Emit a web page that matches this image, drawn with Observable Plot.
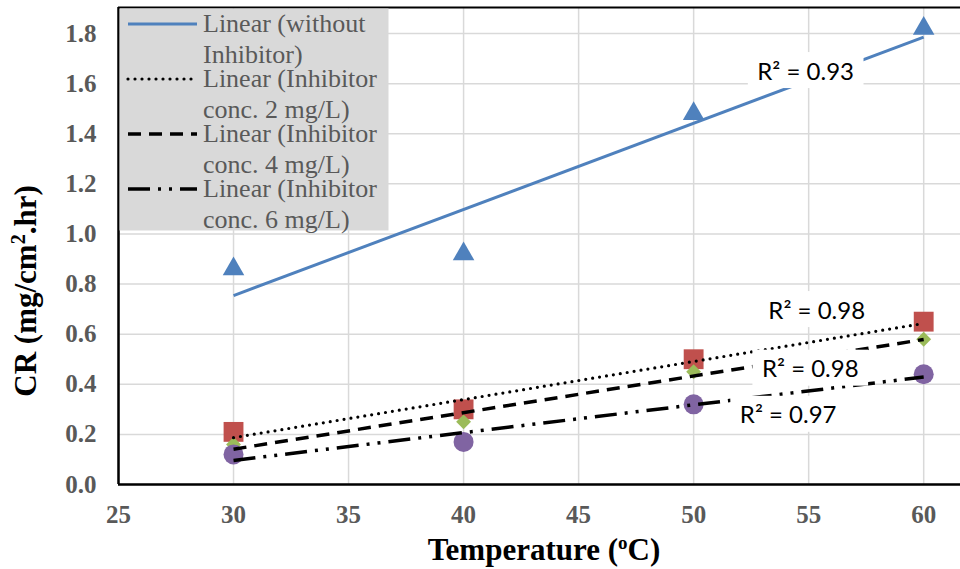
<!DOCTYPE html>
<html>
<head>
<meta charset="utf-8">
<script src="https://cdn.jsdelivr.net/npm/d3@7"></script>
<script src="https://cdn.jsdelivr.net/npm/@observablehq/plot@0.6"></script>
<style>
  html, body { margin: 0; padding: 0; background: #fff; }
  #wrap { position: relative; width: 960px; height: 569px; overflow: hidden; }
  #legend { position: absolute; left: 0; top: 0; pointer-events: none; }
  .serif { font-family: "Liberation Serif", "Times New Roman", serif; }
</style>
</head>
<body>
<div id="wrap"></div>
<script>
// ---- data ----
const temps = [30, 40, 50, 60];
const crWithout = [0.86, 0.92, 1.48, 1.82];
const crConc2 = [0.21, 0.30, 0.50, 0.65];
const crConc4 = [0.16, 0.25, 0.45, 0.58];
const crConc6 = [0.12, 0.17, 0.32, 0.44];
const xTicks = [25, 30, 35, 40, 45, 50, 55, 60];
const yTicks = [0, 0.2, 0.4, 0.6, 0.8, 1.0, 1.2, 1.4, 1.6, 1.8];
const legendLines = [
  ["Linear (without", "Inhibitor)"],
  ["Linear (Inhibitor", "conc. 2 mg/L)"],
  ["Linear (Inhibitor", "conc. 4 mg/L)"],
  ["Linear (Inhibitor", "conc. 6 mg/L)"]
];
const r2Texts = ["R\u00B2 = 0.93", "R\u00B2 = 0.98", "R\u00B2 = 0.98", "R\u00B2 = 0.97"];
const r2AtTemp = [54.87, 55.35, 55.07, 54.11];
const r2AtCR = [1.647, 0.693, 0.459, 0.275];

// ---- styling ----
const SERIF = "Liberation Serif, Times New Roman, serif";
const X_MAX = 61.6, Y_MAX = 1.904;
const series = [
  {values: crWithout, color: "#4F81BD", symbol: "triangle", r: 8,
   line: {stroke: "#4F81BD", strokeWidth: 3, strokeDasharray: null, strokeLinecap: "butt"}},
  {values: crConc2, color: "#C0504D", symbol: "square", r: 11.2,
   line: {stroke: "black", strokeWidth: 3.2, strokeDasharray: "0 7", strokeLinecap: "round"}},
  {values: crConc4, color: "#9BBB59", symbol: "diamond2", r: 6.7,
   line: {stroke: "black", strokeWidth: 3.5, strokeDasharray: "13 8", strokeLinecap: "butt"}},
  {values: crConc6, color: "#8064A2", symbol: "circle", r: 10,
   line: {stroke: "black", strokeWidth: 3.5, strokeDasharray: "22 8 3 8 3 8", strokeLinecap: "butt"}}
];
const tables = series.map(s => temps.map((t, i) => ({x: t, y: s.values[i]})));
const r2Table = r2Texts.map((t, i) => ({x: r2AtTemp[i], y: r2AtCR[i], text: t}));

const gridStyle = {stroke: "#d9d9d9", strokeOpacity: 1, strokeWidth: 1.5};
const tickStyle = {tickSize: 0, fontSize: 25, fontWeight: "bold", fontFamily: SERIF, fill: "#595959", label: null};

const plot = Plot.plot({
  width: 960, height: 569,
  marginLeft: 118, marginRight: 0, marginTop: 7, marginBottom: 85,
  style: {fontFamily: SERIF, background: "white", overflow: "visible"},
  x: {domain: [25, X_MAX]},
  y: {domain: [0, Y_MAX]},
  marks: [
    Plot.gridX(xTicks, gridStyle),
    Plot.gridY(yTicks, gridStyle),
    Plot.ruleY([Y_MAX], {stroke: "black", strokeWidth: 2}),
    Plot.axisX(xTicks, {...tickStyle, tickPadding: 21}),
    Plot.axisY(yTicks, {...tickStyle, tickPadding: 22, tickFormat: d3.format(".1f")}),
    ...series.map((s, i) => Plot.dot(tables[i], {x: "x", y: "y", symbol: s.symbol, r: s.r, fill: s.color, stroke: "none"})),
    ...series.map((s, i) => Plot.linearRegressionY(tables[i], {x: "x", y: "y", ci: 0, ...s.line})),
    Plot.ruleX([25], {stroke: "black", strokeWidth: 2.5}),
    Plot.ruleY([0], {stroke: "black", strokeWidth: 2.5}),
    Plot.text(r2Table, {x: "x", y: "y", text: "text", fontFamily: "Lato, Open Sans, sans-serif",
      fontSize: 24, fill: "black", textAnchor: "middle", lineAnchor: "middle"})
  ]
});

const wrap = document.getElementById("wrap");
wrap.appendChild(plot);

// white label boxes behind the R² texts
d3.select(plot).selectAll('g[aria-label="text"] text').each(function() {
  const b = this.getBBox();
  const rect = document.createElementNS("http://www.w3.org/2000/svg", "rect");
  rect.setAttribute("x", b.x - 9.5);
  rect.setAttribute("y", b.y - 3.5);
  rect.setAttribute("width", b.width + 19);
  rect.setAttribute("height", b.height + 7);
  rect.setAttribute("fill", "white");
  const tr = this.getAttribute("transform");
  if (tr) rect.setAttribute("transform", tr);
  this.parentNode.insertBefore(rect, this);
});

// axis titles
const svg = d3.select(plot);
const xt = svg.append("text")
  .attr("class", "serif")
  .attr("x", 544).attr("y", 560)
  .attr("text-anchor", "middle")
  .attr("font-weight", "bold").attr("font-size", 31).attr("fill", "black");
xt.append("tspan").text("Temperature (");
xt.append("tspan").attr("font-size", 19).attr("dy", -11).text("o");
xt.append("tspan").attr("dy", 11).text("C)");

const yt = svg.append("text")
  .attr("class", "serif")
  .attr("transform", "translate(36,291) rotate(-90)")
  .attr("text-anchor", "middle")
  .attr("font-weight", "bold").attr("font-size", 31).attr("fill", "black");
yt.append("tspan").text("CR (mg/cm");
yt.append("tspan").attr("font-size", 20).attr("dy", -11).text("2");
yt.append("tspan").attr("dy", 11).text(".hr)");

// legend overlay (inside plot area, top-left)
const leg = d3.select(wrap).append("svg").attr("id", "legend").attr("width", 960).attr("height", 569);
leg.append("rect").attr("x", 119.5).attr("y", 8.5).attr("width", 269).attr("height", 222).attr("fill", "#d9d9d9");
legendLines.forEach((lines, i) => {
  const cy = 24 + 55 * i;
  const s = series[i].line;
  leg.append("line").attr("x1", 128).attr("x2", 197).attr("y1", cy).attr("y2", cy)
    .attr("stroke", s.stroke).attr("stroke-width", s.strokeWidth)
    .attr("stroke-dasharray", s.strokeDasharray).attr("stroke-linecap", s.strokeLinecap);
  lines.forEach((t, j) => {
    leg.append("text").attr("class", "serif").attr("x", 203).attr("y", cy + 8 + 31 * j)
      .attr("font-size", 26).attr("fill", "#595959").text(t);
  });
});
</script>
</body>
</html>
